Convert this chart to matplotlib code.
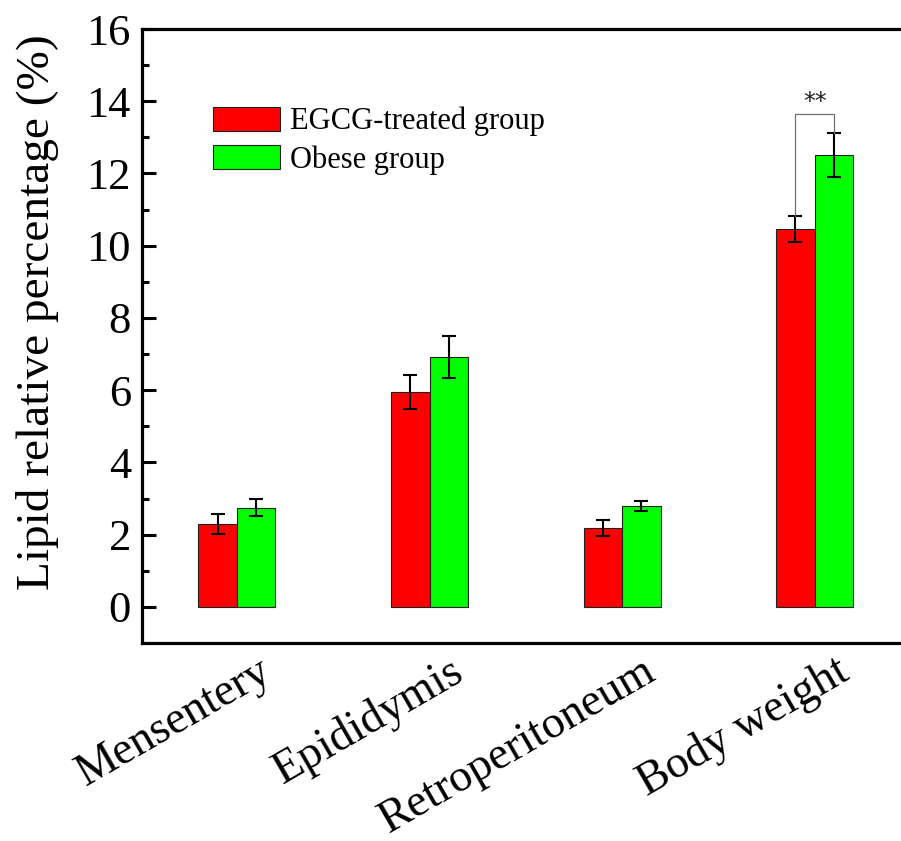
import numpy as np
import matplotlib
matplotlib.use('Agg')
import matplotlib.pyplot as plt
import matplotlib.transforms as mtransforms

plt.rcParams['font.family'] = ['Liberation Serif', 'DejaVu Serif']

# 数据
categories = ['Mensentery', 'Epididymis', 'Retroperitoneum', 'Body weight']
egcg_mean = [2.30, 5.95, 2.18, 10.47]
egcg_err = [0.27, 0.47, 0.22, 0.36]
obese_mean = [2.75, 6.92, 2.80, 12.51]
obese_err = [0.24, 0.58, 0.14, 0.60]
labels = ['EGCG-treated group', 'Obese group']

x = np.arange(len(categories))
w = 0.2

fig = plt.figure(figsize=(9.01, 8.41), dpi=100)
ax = fig.add_axes([0.1576, 0.2354, 0.8535, 0.7301])

ax.bar(x - w / 2, egcg_mean, w, color='#ff0000', edgecolor='#202020', linewidth=0.8, label=labels[0])
ax.bar(x + w / 2, obese_mean, w, color='#00ff00', edgecolor='#202020', linewidth=0.8, label=labels[1])
ekw = dict(fmt='none', ecolor='black', elinewidth=1.5, capsize=5, capthick=1.5)
ax.errorbar(x - w / 2, egcg_mean, yerr=egcg_err, **ekw)
ax.errorbar(x + w / 2, obese_mean, yerr=obese_err, **ekw)

# 显著性标记 (Body weight)
i = 3
y_left = egcg_mean[i] + egcg_err[i]
y_right = obese_mean[i] + obese_err[i]
y_top = y_right + 0.53
ax.plot([x[i] - w / 2, x[i] - w / 2, x[i] + w / 2, x[i] + w / 2],
        [y_left, y_top, y_top, y_right], color='#707070', linewidth=0.9)
ax.text(x[i], y_top + 0.02, '**', ha='center', va='bottom', fontsize=17,
        family=['DejaVu Sans'], color='#202020')

ax.set_xlim(-0.493, 3.5)
ax.set_ylim(-1, 16)
ax.set_yticks(np.arange(0, 17, 2))
ax.set_yticks(np.arange(1, 16, 2), minor=True)

ax.tick_params(axis='y', which='major', direction='in', length=10, width=2.2, labelsize=32, pad=8)
ax.tick_params(axis='y', which='minor', direction='in', length=5, width=2.2)
ax.tick_params(axis='x', length=0, pad=5)
for s in ax.spines.values():
    s.set_linewidth(2.3)

ax.set_xticks(x)
ax.set_xticklabels(categories, rotation=30, ha='right', va='top', rotation_mode='anchor', fontsize=33)
# tick_params 之后再加偏移，否则 pad 会重置 transform
offset = mtransforms.ScaledTranslation(0.20, 0, fig.dpi_scale_trans)
for lab in ax.get_xticklabels():
    lab.set_transform(lab.get_transform() + offset)

ax.set_ylabel('Lipid relative percentage (%)', fontsize=34)
ax.yaxis.set_label_coords(-0.108, 0.539)

ax.legend(loc='upper left', bbox_to_anchor=(0.0923, 0.873), frameon=False, fontsize=22,
          handlelength=2.2, handleheight=0.82, handletextpad=0.33, labelspacing=0.28,
          borderpad=0, borderaxespad=0)

fig.savefig('out.png', dpi=100)
